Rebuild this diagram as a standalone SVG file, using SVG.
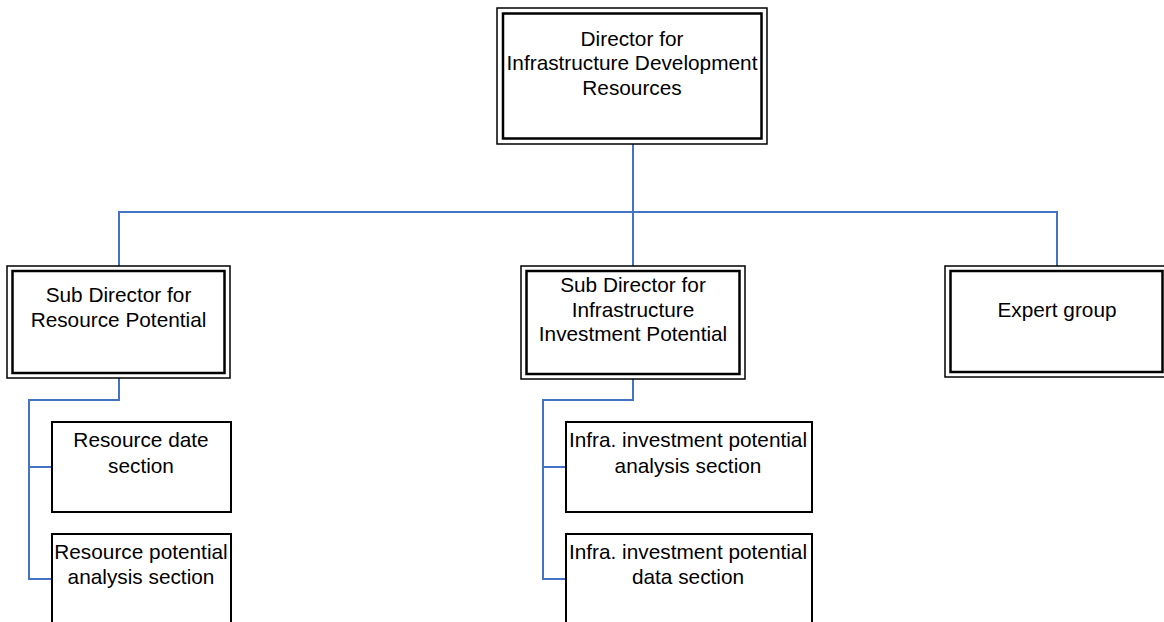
<svg xmlns="http://www.w3.org/2000/svg" width="1164" height="622" viewBox="0 0 1164 622">
  <style>
    .bg { fill: #ffffff; }
    .outer { fill: #ffffff; stroke: #000000; stroke-width: 1.5; }
    .inner { fill: none; stroke: #000000; stroke-width: 2.5; }
    .box { fill: #ffffff; stroke: #000000; stroke-width: 2; }
    .link { fill: none; stroke: #4472C4; stroke-width: 2; }
    text { font-family: "Liberation Sans", Arial, sans-serif; font-size: 20.8px; fill: #000000; text-anchor: middle; }
  </style>
  <rect class="bg" x="0" y="0" width="1164" height="622"/>

  <g id="connectors">
    <path class="link" d="M633 144 V212"/>
    <path class="link" d="M119 266 V212 H1057 V266"/>
    <path class="link" d="M633 212 V266"/>
    <path class="link" d="M119 378 V400 H29 V579 H52"/>
    <path class="link" d="M29 467 H52"/>
    <path class="link" d="M633 379 V400 H543 V579 H566"/>
    <path class="link" d="M543 467 H566"/>
  </g>

  <g id="director">
    <rect class="outer" x="497" y="8" width="270" height="136"/>
    <rect class="inner" x="503" y="13.5" width="258.5" height="125"/>
    <text x="632" y="46">Director for</text>
    <text x="632" y="70">Infrastructure Development</text>
    <text x="632" y="95">Resources</text>
  </g>

  <g id="sub-resource">
    <rect class="outer" x="7" y="266" width="223" height="112"/>
    <rect class="inner" x="12.5" y="271" width="212" height="102"/>
    <text x="118.5" y="302">Sub Director for</text>
    <text x="118.5" y="327">Resource Potential</text>
  </g>

  <g id="sub-infra">
    <rect class="outer" x="521" y="266" width="224" height="113"/>
    <rect class="inner" x="526.5" y="271" width="213" height="103"/>
    <text x="633" y="292">Sub Director for</text>
    <text x="633" y="317">Infrastructure</text>
    <text x="633" y="341">Investment Potential</text>
  </g>

  <g id="expert">
    <rect class="outer" x="945" y="266" width="222" height="111"/>
    <rect class="inner" x="950.5" y="271" width="212" height="101"/>
    <text x="1057" y="317">Expert group</text>
  </g>

  <g id="resource-data">
    <rect class="box" x="52" y="422" width="179" height="90"/>
    <text x="141" y="447">Resource date</text>
    <text x="141" y="473">section</text>
  </g>

  <g id="resource-analysis">
    <rect class="box" x="52" y="534" width="179" height="100"/>
    <text x="141" y="559">Resource potential</text>
    <text x="141" y="584">analysis section</text>
  </g>

  <g id="infra-analysis">
    <rect class="box" x="566" y="422" width="246" height="90"/>
    <text x="688" y="447">Infra. investment potential</text>
    <text x="688" y="473">analysis section</text>
  </g>

  <g id="infra-data">
    <rect class="box" x="566" y="534" width="246" height="100"/>
    <text x="688" y="559">Infra. investment potential</text>
    <text x="688" y="584">data section</text>
  </g>
</svg>
